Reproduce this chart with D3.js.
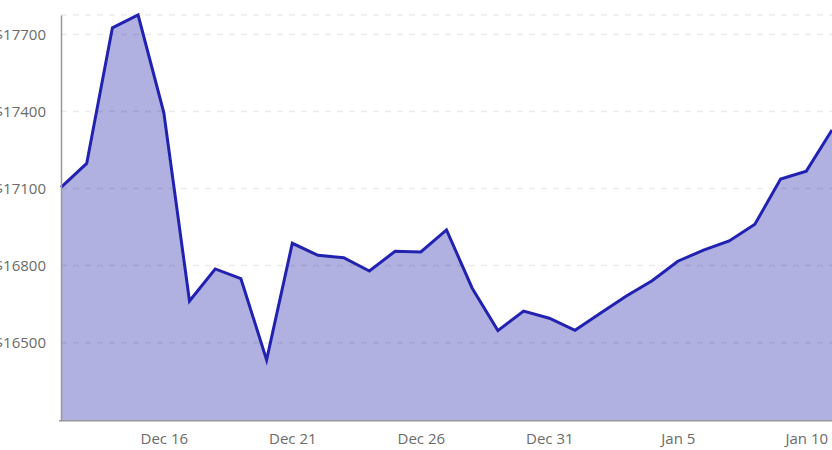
<!DOCTYPE html>
<html>
<head>
<meta charset="utf-8">
<script src="https://cdn.jsdelivr.net/npm/d3@7"></script>
<style>
  html, body { margin: 0; padding: 0; background: #ffffff; }
  svg { display: block; }
</style>
</head>
<body>
<svg id="chart" width="832" height="450"></svg>
<script>
// ---- data ----
const dates = [
  "2022-12-12","2022-12-13","2022-12-14","2022-12-15","2022-12-16","2022-12-17","2022-12-18",
  "2022-12-19","2022-12-20","2022-12-21","2022-12-22","2022-12-23","2022-12-24","2022-12-25",
  "2022-12-26","2022-12-27","2022-12-28","2022-12-29","2022-12-30","2022-12-31","2023-01-01",
  "2023-01-02","2023-01-03","2023-01-04","2023-01-05","2023-01-06","2023-01-07","2023-01-08",
  "2023-01-09","2023-01-10","2023-01-11"
];
const prices = [
  17105, 17198, 17726, 17776, 17396, 16662, 16787,
  16749, 16433, 16887, 16840, 16831, 16779, 16856,
  16853, 16939, 16712, 16547, 16623, 16595, 16548,
  16615, 16682, 16741, 16817, 16860, 16896, 16961,
  17137, 17168, 17328
];
const xTickDates = ["2022-12-16","2022-12-21","2022-12-26","2022-12-31","2023-01-05","2023-01-10"];
const yTickValues = [16500, 16800, 17100, 17400, 17700];
const yDomainMin = 16196;

// ---- layout ----
const width = 832, height = 450;
const margin = { top: 15, right: 0, bottom: 29.3, left: 61 };
const parse = d3.timeParse("%Y-%m-%d");
const data = dates.map((d, i) => ({ date: parse(d), value: prices[i] }));

const svg = d3.select("#chart");

const x = d3.scaleTime()
  .domain(d3.extent(data, d => d.date))
  .range([margin.left, width - margin.right]);

const y = d3.scaleLinear()
  .domain([yDomainMin, d3.max(prices)])
  .range([height - margin.bottom, margin.top]);

const lineColor = "#2222b0";
const fillColor = "#b0b1e1";

// area
svg.append("path")
  .datum(data)
  .attr("fill", fillColor)
  .attr("d", d3.area()
    .x(d => x(d.date))
    .y0(y(yDomainMin))
    .y1(d => y(d.value)));

// grid lines (drawn over area)
const gridVals = yTickValues.concat([d3.max(prices)]);
svg.append("g")
  .selectAll("line")
  .data(gridVals)
  .join("line")
  .attr("x1", margin.left)
  .attr("x2", width - margin.right)
  .attr("y1", d => y(d))
  .attr("y2", d => y(d))
  .attr("stroke", "rgba(0,0,0,0.08)")
  .attr("stroke-width", 1.5)
  .attr("stroke-dasharray", "6,6");

// line
svg.append("path")
  .datum(data)
  .attr("fill", "none")
  .attr("stroke", lineColor)
  .attr("stroke-width", 3)
  .attr("stroke-linejoin", "miter")
  .attr("d", d3.line()
    .x(d => x(d.date))
    .y(d => y(d.value)));

// axes
const fontFamily = "'Open Sans', 'Noto Sans', sans-serif";
const xAxis = svg.append("g")
  .attr("transform", `translate(0,${y(yDomainMin)})`)
  .call(d3.axisBottom(x)
    .tickValues(xTickDates.map(parse))
    .tickFormat(d3.timeFormat("%b %-d"))
    .tickSize(0)
    .tickPadding(12.5));
xAxis.select(".domain").attr("stroke", "#999999").attr("stroke-width", 1.5)
  .attr("d", `M${margin.left - 2},0H${width}`);
xAxis.selectAll("text")
  .attr("fill", "#6b6b6b")
  .style("font-family", fontFamily)
  .style("font-size", "15px");

const yAxis = svg.append("g")
  .attr("transform", `translate(${margin.left},0)`)
  .call(d3.axisLeft(y)
    .tickValues(yTickValues)
    .tickFormat(d => "$" + d)
    .tickSize(0)
    .tickPadding(15));
yAxis.select(".domain").attr("stroke", "#999999").attr("stroke-width", 1.5);
yAxis.selectAll("text")
  .attr("fill", "#6b6b6b")
  .style("font-family", fontFamily)
  .style("font-size", "15px");
</script>
</body>
</html>
